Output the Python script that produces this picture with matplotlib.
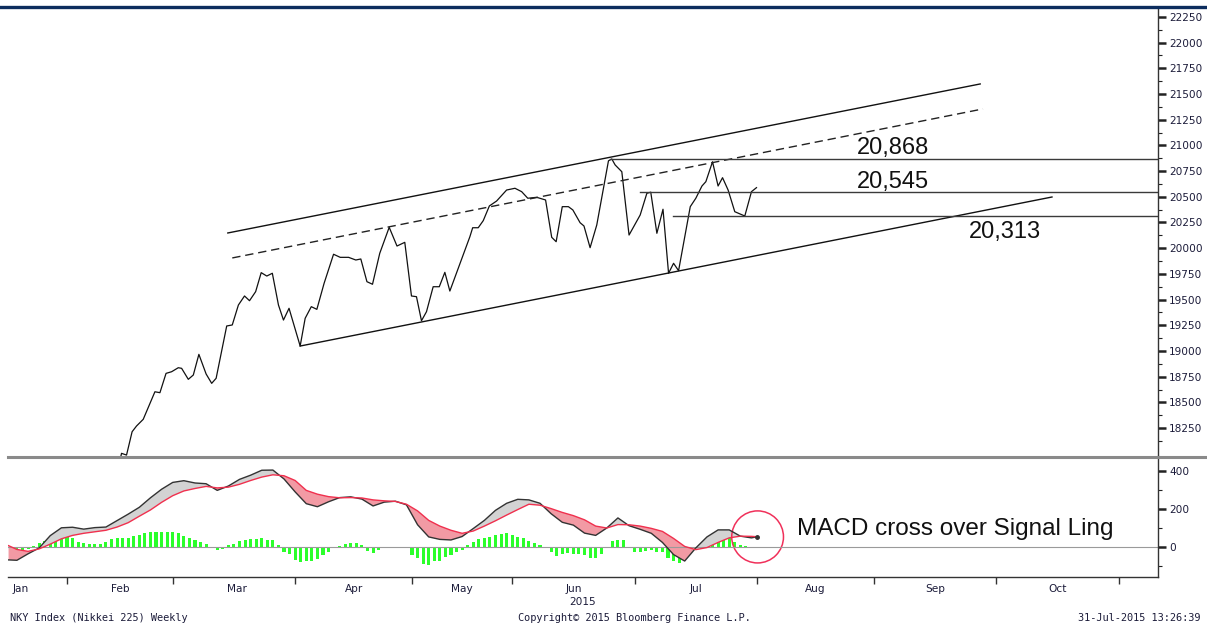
import matplotlib.pyplot as plt
import numpy as np
from matplotlib.lines import Line2D
from matplotlib.patches import Ellipse

# x axis is the trading-session index (session 19 = first session of Feb 2015)
month_starts = [19, 38, 60, 81, 99, 121, 143, 164, 186, 208]
month_label_pos = [10.6, 28.5, 49.5, 70.5, 90, 110, 132, 153.5, 175, 197]
month_names = ['Jan', 'Feb', 'Mar', 'Apr', 'May', 'Jun', 'Jul', 'Aug', 'Sep', 'Oct']

# NKY daily closes
price_idx = [27.8, 28.8, 29.7, 30.7, 31.5, 32.7, 34.8, 35.7, 36.8, 37.8, 39.0, 39.6,
             40.8, 41.7, 42.7, 44.0, 45.0, 45.8, 47.7, 48.7, 49.8, 50.9, 51.8, 52.9,
             53.9, 54.9, 55.9, 57.0, 57.9, 58.9, 60.9, 61.8, 62.9, 63.9, 65.2, 66.9,
             68.1, 69.6, 70.9, 71.8, 72.9, 73.9, 75.2, 76.9, 78.3, 79.7, 80.9, 81.8,
             82.7, 83.6, 84.8, 85.9, 86.9, 87.8, 91.4, 91.9, 92.9, 93.8, 94.9, 96.2,
             98.0, 99.5, 100.7, 101.8, 103.4, 105.0, 106.1, 106.9, 108.0, 109.1, 109.9,
             111.2, 111.9, 113.0, 114.2, 116.3, 116.9, 117.5, 118.7, 120.0, 122.0, 123.2,
             123.9, 125.0, 126.1, 127.1, 128.0, 128.9, 131.0, 132.0, 133.1, 133.8, 135.0,
             136.0, 136.8, 137.8, 139.0, 140.8, 142.0, 142.9]
price_val = [17750, 18004, 17987, 18214, 18270, 18335, 18603, 18594, 18782, 18798, 18837, 18831,
             18724, 18766, 18967, 18776, 18685, 18734, 19243, 19253, 19447, 19535, 19489, 19577,
             19762, 19729, 19756, 19447, 19301, 19415, 19048, 19318, 19431, 19405, 19658, 19941,
             19911, 19911, 19885, 19895, 19674, 19649, 19950, 20203, 20021, 20057, 19535, 19528,
             19294, 19382, 19625, 19625, 19765, 19583, 20112, 20199, 20199, 20268, 20411, 20459,
             20566, 20583, 20550, 20486, 20495, 20469, 20106, 20063, 20404, 20404, 20372,
             20248, 20216, 20005, 20226, 20850, 20868, 20810, 20744, 20128, 20323, 20534,
             20545, 20145, 20379, 19756, 19853, 19781, 20404, 20486, 20605, 20647, 20841,
             20605, 20686, 20566, 20355, 20313, 20550, 20589]

# trend channel drawn on the chart
upper_x, upper_y = [47.9, 183.1], [20148, 21598]
mid_x, mid_y = [48.7, 183.6], [19905, 21355]
lower_x, lower_y = [60.9, 196.0], [19048, 20498]

levels = [20868, 20545, 20313]
level_start = [116.6, 122.0, 127.9]
level_text = ['20,868', '20,545', '20,313']
level_text_x = [167.4, 167.4, 187.6]
level_text_y = [20975, 20644, 20158]

# MACD panel
macd_x = [8.5, 10, 12, 14, 16, 18, 20, 22, 24, 26, 28, 30, 32, 34, 36, 38, 40, 42, 44, 46,
          48, 50, 52, 54, 56, 58, 60, 62, 64, 66, 68, 70, 72, 74, 76, 78, 80, 82, 84, 86,
          88, 90, 92, 94, 96, 98, 100, 102, 104, 106, 108, 110, 112, 114, 116, 118, 120,
          122, 124, 126, 128, 130, 132, 134, 136, 138, 140, 142, 143]
macd_line = [-68, -70, -36, -5, 60, 101, 104, 94, 102, 105, 139, 173, 209, 259, 304, 340, 349,
             337, 333, 298, 321, 356, 378, 404, 405, 358, 290, 228, 212, 238, 260, 264, 252,
             216, 236, 241, 222, 117, 53, 40, 37, 55, 97, 140, 193, 230, 251, 248, 230, 175,
             130, 115, 73, 61, 100, 153, 112, 93, 72, 24, -40, -74, -5, 53, 90, 90, 57, 48, 54]
signal_line = [7, -13, -23, -10, 15, 43, 61, 72, 80, 88, 105, 128, 162, 195, 235, 270, 295,
               308, 319, 311, 315, 330, 350, 368, 380, 375, 350, 298, 278, 265, 259, 260, 258,
               248, 243, 240, 225, 190, 140, 110, 88, 72, 84, 110, 138, 168, 197, 225, 220,
               202, 182, 165, 143, 110, 100, 118, 117, 110, 98, 82, 45, 3, -14, -3, 24, 48,
               57, 56, 54]

hist_x = list(range(9, 143))
hist_val = [-60, -45, -25, -10, 5, 22, 30, 55, 72, 70, 55, 45, 28, 20, 15, 18, 14, 28, 40, 46,
            46, 49, 60, 63, 72, 77, 81, 81, 81, 77, 72, 60, 46, 35, 25, 14, -5, -16, -8, 8,
            18, 30, 37, 42, 40, 46, 37, 37, 11, -25, -39, -68, -81, -74, -74, -63, -42, -25,
            0, 5, 14, 19, 19, 11, -21, -33, -16, -4, 2, 0, 0, -5, -42, -60, -91, -95, -74,
            -74, -51, -42, -28, -16, 11, 25, 42, 49, 54, 63, 67, 72, 63, 55, 46, 32, 19, 11,
            -5, -28, -46, -39, -33, -39, -39, -42, -56, -60, -39, 0, 32, 37, 37, 0, -25, -25,
            -21, -16, -25, -28, -60, -74, -86, -68, -33, -16, 11, 32, 58, 63, 60, 54, 25, 11,
            4, 2]

W, H = 1207, 628
fig = plt.figure(figsize=(W / 100, H / 100), dpi=100)
fig.patch.set_facecolor('white')

ax_l, ax_r = 8 / W, 1158 / W
ax = fig.add_axes([ax_l, 1 - 456 / H, ax_r - ax_l, (456 - 8) / H])
ax2 = fig.add_axes([ax_l, 1 - 577 / H, ax_r - ax_l, (577 - 456) / H], sharex=ax)

tick_color = '#1c1c3a'
xmin, xmax = 8.4, 215.05

# ---- price panel
ax.plot(price_idx, price_val, color='#111111', lw=0.9)
ax.plot(upper_x, upper_y, color='#111111', lw=1.0)
ax.plot(lower_x, lower_y, color='#111111', lw=1.0)
ax.plot(mid_x, mid_y, color='#222222', lw=1.0, dashes=(6, 3.5))
for lv, st in zip(levels, level_start):
    ax.plot([st, xmax], [lv, lv], color='#3a3a3a', lw=1.0)
for t, tx, ty in zip(level_text, level_text_x, level_text_y):
    ax.text(tx, ty, t, fontsize=17, family='Liberation Sans', ha='center', va='center',
            color='#111111')

ax.set_xlim(xmin, xmax)
ax.set_ylim(17978, 22337)
ax.yaxis.tick_right()
ax.set_yticks(np.arange(18250, 22251, 250))
ax.set_yticks(np.arange(18125, 22337, 250), minor=True)
ax.tick_params(axis='y', which='major', length=6, width=1.8, color='#222222',
               labelsize=7.6, labelcolor=tick_color, pad=2)
ax.tick_params(axis='y', which='minor', length=3, width=0.8, color='#222222')
ax.tick_params(axis='x', which='both', bottom=False, labelbottom=False)
for s in ['left', 'top', 'bottom']:
    ax.spines[s].set_visible(False)
ax.spines['right'].set_color('#333333')
ax.spines['right'].set_linewidth(1.0)

# ---- MACD panel
mx = np.array(macd_x)
ml = np.array(macd_line)
sl = np.array(signal_line)
ax2.axhline(0, color='#9a9a9a', lw=0.8)
ax2.bar(hist_x, hist_val, width=0.55, color='#2bff2b', edgecolor='none')
ax2.fill_between(mx, ml, sl, where=ml >= sl, interpolate=True, color='#d3d3d3', lw=0)
ax2.fill_between(mx, ml, sl, where=ml < sl, interpolate=True, color='#f29aa4', lw=0)
ax2.plot(mx, ml, color='#333333', lw=1.0)
ax2.plot(mx, sl, color='#f0304e', lw=1.0)
ax2.plot(mx[-1], sl[-1], 'o', ms=2.5, color='#333333')

ax2.add_patch(Ellipse((143.1, 53), 9.3, 274, fill=False, ec='#f0305a', lw=1.1,
                      clip_on=False))
ax2.text(150.2, 95, 'MACD cross over Signal Ling', fontsize=17.5, family='Liberation Sans',
         ha='left', va='center', color='#111111')

ax2.set_ylim(-158, 479)
ax2.yaxis.tick_right()
ax2.set_yticks([0, 200, 400])
ax2.set_yticks([-100, 100, 300], minor=True)
ax2.tick_params(axis='y', which='major', length=6, width=1.8, color='#222222',
                labelsize=7.6, labelcolor=tick_color, pad=2)
ax2.tick_params(axis='y', which='minor', length=3, width=0.8, color='#222222')

ax2.set_xticks(month_starts)
ax2.set_xticklabels([])
ax2.set_xticks(month_label_pos, minor=True)
ax2.set_xticklabels(month_names, minor=True)
ax2.tick_params(axis='x', which='major', length=5, width=1.0, color='#333333', direction='out')
ax2.tick_params(axis='x', which='minor', length=0, labelsize=7.6, labelcolor=tick_color, pad=5)
for s in ['left', 'top']:
    ax2.spines[s].set_visible(False)
for s in ['right', 'bottom']:
    ax2.spines[s].set_color('#333333')
    ax2.spines[s].set_linewidth(1.0)
ax2.set_xlim(xmin, xmax)

# ---- frame decorations
fig.add_artist(Line2D([0, 1], [1 - 7 / H] * 2, color='#0c2d5e', lw=2.4))
fig.add_artist(Line2D([ax_l, 1], [1 - 456.5 / H] * 2, color='#8a8a8a', lw=2.2))

fig.text(583 / W, 1 - 602 / H, '2015', fontsize=7.6, color=tick_color, ha='center', va='center')
fig.text(10 / W, 1 - 618 / H, 'NKY Index (Nikkei 225) Weekly', fontsize=7.4,
         family='DejaVu Sans Mono', color=tick_color, ha='left', va='center')
fig.text(634 / W, 1 - 618 / H, 'Copyright\u00a9 2015 Bloomberg Finance L.P.', fontsize=7.4,
         family='DejaVu Sans Mono', color=tick_color, ha='center', va='center')
fig.text(1201 / W, 1 - 618 / H, '31-Jul-2015 13:26:39', fontsize=7.4,
         family='DejaVu Sans Mono', color=tick_color, ha='right', va='center')

fig.savefig('out.png', dpi=100, facecolor='white')
